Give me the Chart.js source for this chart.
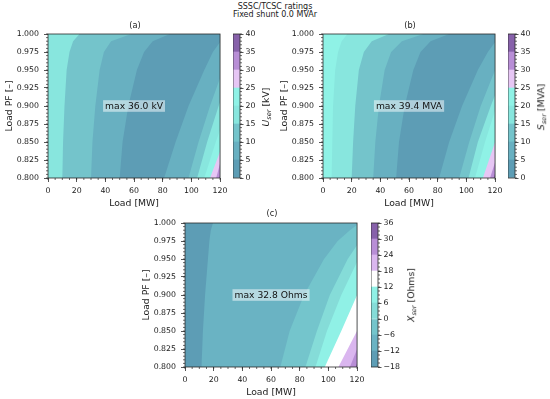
<!DOCTYPE html>
<html>
<head>
<meta charset="utf-8">
<script src="https://cdn.jsdelivr.net/npm/chart.js@4.4.1/dist/chart.umd.min.js"></script>
<style>
html,body{margin:0;padding:0;background:#fff;}
body{position:relative;width:550px;height:399px;overflow:hidden;font-family:"DejaVu Sans",sans-serif;color:#1a1a1a;}
canvas{position:absolute;}
.lbl{position:absolute;white-space:nowrap;line-height:1;transform:translate(-50%,-50%);}
.rot{transform:translate(-50%,-50%) rotate(-90deg);}
.sub{font-size:6.6px;font-style:italic;vertical-align:-2px;}
</style>
</head>
<body>
<script>
// ---------------- data ----------------
const pfSamples = [0.80, 0.85, 0.90, 0.95, 0.975, 0.99, 1.00];
const loadTicks = [0, 20, 40, 60, 80, 100, 120];
const pfTicks = [0.800, 0.825, 0.850, 0.875, 0.900, 0.925, 0.950, 0.975, 1.000];

// (a) U_ser [kV]
const uLevels = [0, 5, 10, 15, 20, 25, 30, 35, 40];
const uColors = ['#5d9db5', '#68b0c1', '#74c4cb', '#88e6de', '#8ff2e6', '#e6c6f4', '#b88ed6', '#8761aa'];
const uBandSeq = [3, 2, 1, 0, 1, 2, 3, 4, 5, 6, 7];
const uEdge15L = [10, 10.5, 11.5, 13, 15, 17.5, 22];
const uEdge10L = [30, 31, 33, 36, 39, 44, 58];
const uEdge5L  = [50, 52, 56, 62, 67, 73, 85];
const uEdge5R  = [81, 89, 98, 109, 115, 120.5, 135];
const uEdge10R = [98, 105, 113, 122, 128, 134, 145];
const uEdge15R = [104, 111, 119, 128, 134, 140, 150];
const uEdge20R = [109, 117, 126, 136, 142, 148, 158];
const uEdge25R = [113, 122.5, 132, 142, 148, 154, 165];
const uEdge30R = [117.3, 124, 134, 144, 150, 156, 167];
const uEdge35R = [119.5, 126, 136, 146, 152, 158, 170];
const uMaxText = 'max 36.0 kV';

// (b) S_ser [MVA]
const sLevels = [0, 5, 10, 15, 20, 25, 30, 35, 40];
const sColors = ['#5d9db5', '#68b0c1', '#74c4cb', '#88e6de', '#8ff2e6', '#e6c6f4', '#b88ed6', '#8761aa'];
const sBandSeq = [4, 3, 2, 1, 0, 1, 2, 3, 4, 5, 6, 7];
const sEdge20L = [6, 6.5, 7, 8.5, 10.5, 13, 17];
const sEdge15L = [20, 21, 22.5, 25, 28.5, 34, 46];
const sEdge10L = [35, 36.5, 39, 43, 47.5, 55, 70];
const sEdge5L  = [51, 53, 57, 63, 68, 75, 88];
const sEdge5R  = [81, 88, 97, 108, 115, 120.5, 135];
const sEdge10R = [95, 102, 110, 120, 127, 134, 145];
const sEdge15R = [101.5, 108, 117, 127, 134, 140, 150];
const sEdge20R = [106, 113, 121, 131, 138, 145, 158];
const sEdge25R = [111.5, 120, 129, 139, 146, 152, 165];
const sEdge30R = [116.5, 124.5, 133, 143, 150, 156, 168];
const sEdge35R = [119, 127, 136, 146, 152, 158, 170];
const sMaxText = 'max 39.4 MVA';

// (c) X_ser [Ohms]
const xLevels = [-18, -12, -6, 0, 6, 12, 18, 24, 30, 36];
const xColors = ['#5d9db5', '#6ab3c3', '#74c5cc', '#85dcd8', '#90f1e6', '#ffffff', '#dab6ef', '#b88ed6', '#8761aa'];
const xBandSeq = [0, 1, 2, 3, 4, 5, 6, 7, 8];
const xEdgeM12 = [11.5, 12.5, 14, 16, 17, 18, 19.5];
const xEdgeM6  = [66.5, 73, 83, 97, 106.5, 115, 122];
const xEdge0   = [84, 92, 101, 113.5, 122, 130, 135];
const xEdge6   = [91, 99, 109, 121, 128, 135, 140];
const xEdge12  = [97.5, 109, 120, 131, 138, 145, 150];
const xEdge18  = [107, 120, 132, 143, 150, 156, 160];
const xEdge24  = [115, 125, 136, 147, 154, 160, 165];
const xEdge30  = [119, 129, 140, 150, 157, 163, 170];
const xMaxText = 'max 32.8 Ohms';

// ---------------- rendering ----------------
const FONT = '"DejaVu Sans", sans-serif';
Chart.defaults.font.family = FONT;
Chart.defaults.color = '#1a1a1a';
const INK = '#2a2a2a';
const FAR = 1000;

const areaBg = {
  id: 'areaBg',
  beforeDatasetsDraw(chart, args, opts) {
    if (!opts.color) return;
    const a = chart.chartArea, ctx = chart.ctx;
    ctx.save(); ctx.fillStyle = opts.color;
    ctx.fillRect(a.left, a.top, a.right - a.left, a.bottom - a.top);
    ctx.restore();
  }
};
const minorTicks = {
  id: 'minorTicks',
  afterDraw(chart, args, opts) {
    const ctx = chart.ctx, a = chart.chartArea;
    ctx.save(); ctx.strokeStyle = INK; ctx.lineWidth = 0.7;
    for (const [id, step] of Object.entries(opts.steps || {})) {
      const s = chart.scales[id];
      const n = Math.round((s.max - s.min) / step);
      for (let i = 0; i <= n; i++) {
        const p = s.getPixelForValue(s.min + i * step);
        ctx.beginPath();
        if (s.isHorizontal()) { ctx.moveTo(p, a.bottom); ctx.lineTo(p, a.bottom + opts.len); }
        else if (s.position === 'left') { ctx.moveTo(a.left, p); ctx.lineTo(a.left - opts.len, p); }
        else { ctx.moveTo(a.right, p); ctx.lineTo(a.right + opts.len, p); }
        ctx.stroke();
      }
    }
    ctx.lineWidth = 0.8;
    ctx.strokeRect(a.left, a.top, a.right - a.left, a.bottom - a.top);
    ctx.restore();
  }
};
const noteBox = {
  id: 'noteBox',
  afterDatasetsDraw(chart, args, opts) {
    if (!opts.text) return;
    const ctx = chart.ctx;
    const x = chart.scales.x.getPixelForValue(opts.x);
    const y = chart.scales.y.getPixelForValue(opts.y);
    ctx.save();
    ctx.font = '9.2px ' + FONT;
    const w = ctx.measureText(opts.text).width;
    ctx.fillStyle = 'rgba(255,255,255,0.5)';
    ctx.fillRect(x - w / 2 - 2, y - 5.8, w + 4, 11.6);
    ctx.fillStyle = '#111'; ctx.textAlign = 'center'; ctx.textBaseline = 'middle';
    ctx.fillText(opts.text, x, y + 0.5);
    ctx.restore();
  }
};

function addCanvas(left, top, w, h) {
  const c = document.createElement('canvas');
  c.width = w; c.height = h;
  c.style.left = left + 'px'; c.style.top = top + 'px';
  c.style.width = w + 'px'; c.style.height = h + 'px';
  document.body.appendChild(c);
  return c;
}
function addText(html, cx, cy, size, rot) {
  const d = document.createElement('div');
  d.className = 'lbl' + (rot ? ' rot' : '');
  d.style.left = cx + 'px'; d.style.top = cy + 'px'; d.style.fontSize = size + 'px';
  d.innerHTML = html;
  document.body.appendChild(d);
}

const YW = 48, PT = 10, PR = 10, XH = 37, CW = 30;
const tickFont = {size: 7.8};
const gridOpts = {drawOnChartArea: false, tickLength: 4, color: INK, tickColor: INK, tickWidth: 0.8};

function makePanel(p) {
  const cv = addCanvas(p.L - YW, p.T - PT, (p.R - p.L) + YW + PR, (p.B - p.T) + PT + XH);
  const datasets = p.edges.map((edge, k) => ({
    data: pfSamples.map((pf, i) => ({x: edge[i], y: pf}))
      .concat([{x: FAR, y: pfSamples[pfSamples.length - 1]}, {x: FAR, y: pfSamples[0]}]),
    backgroundColor: p.colors[p.bandSeq[k + 1]],
    borderColor: 'rgba(0,0,0,0)', borderWidth: 0, pointRadius: 0,
    fill: 'shape', tension: 0, order: -k
  }));
  new Chart(cv, {
    type: 'line',
    data: {datasets},
    options: {
      responsive: false, animation: false, devicePixelRatio: 1, events: [],
      layout: {padding: {left: 0, top: PT, right: PR, bottom: 0}},
      plugins: {
        legend: {display: false}, tooltip: {enabled: false}, title: {display: false},
        areaBg: {color: p.colors[p.bandSeq[0]]},
        minorTicks: {steps: {x: 5, y: 0.005}, len: 2},
        noteBox: {text: p.note, x: 60, y: 0.9}
      },
      scales: {
        x: {
          type: 'linear', min: 0, max: 120,
          afterBuildTicks: s => { s.ticks = loadTicks.map(v => ({value: v})); },
          afterFit: s => { s.height = XH; },
          ticks: {font: tickFont, padding: 4.5, maxRotation: 0, autoSkip: false, callback: v => String(v)},
          grid: gridOpts, border: {display: false},
          title: {display: true, text: 'Load [MW]', font: {size: 9.3}, padding: {top: 0, bottom: 6}}
        },
        y: {
          type: 'linear', min: 0.8, max: 1.0,
          afterBuildTicks: s => { s.ticks = pfTicks.map(v => ({value: v})); },
          afterFit: s => { s.width = YW; },
          ticks: {font: tickFont, padding: 5, autoSkip: false, callback: v => Number(v).toFixed(3)},
          grid: gridOpts, border: {display: false},
          title: {display: true, text: 'Load PF [–]', font: {size: 9.3}, padding: {top: 4, bottom: 0}}
        }
      }
    },
    plugins: [areaBg, minorTicks, noteBox]
  });
}

function makeCbar(c) {
  const cv = addCanvas(c.L, c.T - PT, (c.R - c.L) + CW, (c.B - c.T) + 2 * PT);
  const lv = c.levels;
  new Chart(cv, {
    type: 'bar',
    data: {
      labels: [''],
      datasets: c.colors.map((col, i) => ({
        data: [[lv[i], lv[i + 1]]], backgroundColor: col, borderWidth: 0,
        barPercentage: 1, categoryPercentage: 1, grouped: false
      }))
    },
    options: {
      responsive: false, animation: false, devicePixelRatio: 1, events: [],
      layout: {padding: {left: 0, top: PT, right: 0, bottom: PT}},
      plugins: {legend: {display: false}, tooltip: {enabled: false}, minorTicks: {steps: {y: c.minor}, len: 2}},
      scales: {
        x: {display: false},
        y: {
          position: 'right', min: lv[0], max: lv[lv.length - 1],
          afterBuildTicks: s => { s.ticks = c.ticks.map(v => ({value: v})); },
          afterFit: s => { s.width = CW; },
          ticks: {font: tickFont, padding: 2, autoSkip: false, callback: v => String(v).replace('-', '\u2212')},
          grid: {drawOnChartArea: false, tickLength: 3.5, color: INK, tickColor: INK, tickWidth: 0.8},
          border: {display: false}
        }
      }
    },
    plugins: [minorTicks]
  });
}

// layout (page pixels)
const panelA = {L: 48, T: 34, R: 222, B: 178};
const panelB = {L: 323, T: 34, R: 497, B: 178};
const panelC = {L: 185, T: 223, R: 359, B: 367};

makePanel(Object.assign({}, panelA, {colors: uColors, bandSeq: uBandSeq, note: uMaxText,
  edges: [uEdge15L, uEdge10L, uEdge5L, uEdge5R, uEdge10R, uEdge15R, uEdge20R, uEdge25R, uEdge30R, uEdge35R]}));
makePanel(Object.assign({}, panelB, {colors: sColors, bandSeq: sBandSeq, note: sMaxText,
  edges: [sEdge20L, sEdge15L, sEdge10L, sEdge5L, sEdge5R, sEdge10R, sEdge15R, sEdge20R, sEdge25R, sEdge30R, sEdge35R]}));
makePanel(Object.assign({}, panelC, {colors: xColors, bandSeq: xBandSeq, note: xMaxText,
  edges: [xEdgeM12, xEdgeM6, xEdge0, xEdge6, xEdge12, xEdge18, xEdge24, xEdge30]}));

makeCbar({L: 233, R: 240, T: 34, B: 178, levels: uLevels, colors: uColors, ticks: uLevels, minor: 1});
makeCbar({L: 508, R: 515, T: 34, B: 178, levels: sLevels, colors: sColors, ticks: sLevels, minor: 1});
makeCbar({L: 371, R: 378, T: 223, B: 367, levels: xLevels, colors: xColors, ticks: xLevels, minor: 1.5});

// text
addText('SSSC/TCSC ratings', 275, 6.8, 8);
addText('Fixed shunt 0.0 MVAr', 275, 15.3, 8);
addText('(a)', 135, 25.3, 8.2);
addText('(b)', 410, 25.3, 8.2);
addText('(c)', 272, 212.7, 8.2);
addText('<i>U</i><span class="sub">ser</span> [kV]', 266.7, 107, 9.3, true);
addText('<i>S</i><span class="sub">ser</span> [MVA]', 541.7, 107, 9.3, true);
addText('<i>X</i><span class="sub">ser</span> [Ohms]', 411.7, 295, 9.3, true);
</script>
</body>
</html>
